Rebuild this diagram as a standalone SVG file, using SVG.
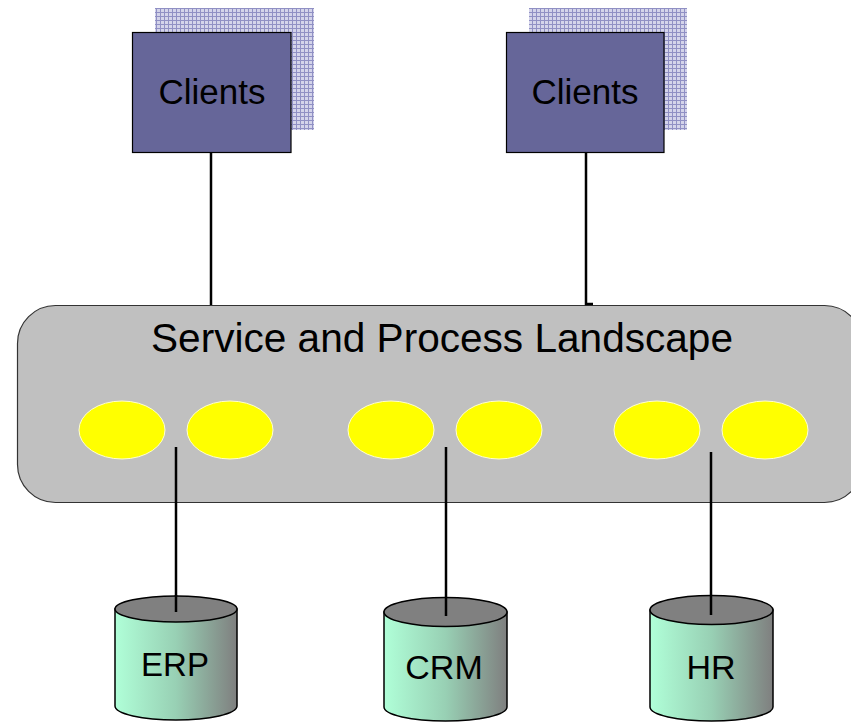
<svg xmlns="http://www.w3.org/2000/svg" width="851" height="722" viewBox="0 0 851 722">
<style>
text{font-family:"Liberation Sans",Arial,sans-serif;fill:#000;text-anchor:middle}
.front{fill:#666699;stroke:#000;stroke-width:1.2}
.back{fill:url(#grid)}
.conn{stroke:#000;stroke-width:2.5;fill:none}
.svc{fill:#ffff00;stroke:#ffffcc;stroke-width:1}
.cyl{stroke:#000;stroke-width:1.5}
</style>
<defs>
<pattern id="grid" width="4" height="4" patternUnits="userSpaceOnUse">
<rect width="4" height="4" fill="#d4d4ea"/>
<path d="M0 0.5H4M0.5 0V4" stroke="#9090c4" stroke-width="1"/>
</pattern>
<linearGradient id="body" x1="0" y1="0" x2="1" y2="0">
<stop offset="0" stop-color="#b0ffd8"/>
<stop offset="0.5" stop-color="#98d0b4"/>
<stop offset="1" stop-color="#7f7f7f"/>
</linearGradient>
</defs>
<g id="landscape">
<rect x="17.5" y="305.5" width="845" height="197" rx="38" ry="38" fill="#c0c0c0" stroke="#333" stroke-width="1.2"/>
<text x="442" y="352" font-size="40.6">Service and Process Landscape</text>
<ellipse class="svc" cx="122" cy="430" rx="43" ry="29"/>
<ellipse class="svc" cx="230" cy="430" rx="43" ry="29"/>
<ellipse class="svc" cx="391" cy="430" rx="43" ry="29"/>
<ellipse class="svc" cx="499" cy="430" rx="43" ry="29"/>
<ellipse class="svc" cx="657" cy="430" rx="43" ry="29"/>
<ellipse class="svc" cx="765" cy="430" rx="43" ry="29"/>
</g>
<g id="clients1">
<rect class="back" x="155" y="8" width="159" height="122"/>
<rect class="front" x="132.5" y="32.5" width="158.5" height="120"/>
<text x="212" y="104" font-size="35">Clients</text>
</g>
<g id="clients2">
<rect class="back" x="529" y="8" width="158" height="122"/>
<rect class="front" x="506.5" y="32.5" width="157.5" height="120"/>
<text x="585" y="104" font-size="35">Clients</text>
</g>
<g id="connectors">
<path class="conn" d="M211 153V305"/>
<path class="conn" d="M586 153V304H593"/>
<path class="conn" d="M176 447V612"/>
<path class="conn" d="M446 447V616"/>
<path class="conn" d="M711 452V615"/>
</g>
<g id="erp">
<path class="cyl" fill="url(#body)" d="M115 609V706A61 14 0 0 0 237 706V609Z"/>
<ellipse class="cyl" cx="176" cy="609" rx="61" ry="13" fill="#808080"/>
<path class="conn" d="M176 595V612"/>
<text x="175" y="676" font-size="33">ERP</text>
</g>
<g id="crm">
<path class="cyl" fill="url(#body)" d="M384 612V707A61.5 14 0 0 0 507 707V612Z"/>
<ellipse class="cyl" cx="445.5" cy="612" rx="61.5" ry="14.5" fill="#808080"/>
<path class="conn" d="M446 597V616"/>
<text x="444" y="679" font-size="34">CRM</text>
</g>
<g id="hr">
<path class="cyl" fill="url(#body)" d="M650 610V707A61.5 14 0 0 0 773 707V610Z"/>
<ellipse class="cyl" cx="711.5" cy="610" rx="61.5" ry="14.5" fill="#808080"/>
<path class="conn" d="M711 595V615"/>
<text x="711" y="679" font-size="34">HR</text>
</g>
</svg>
